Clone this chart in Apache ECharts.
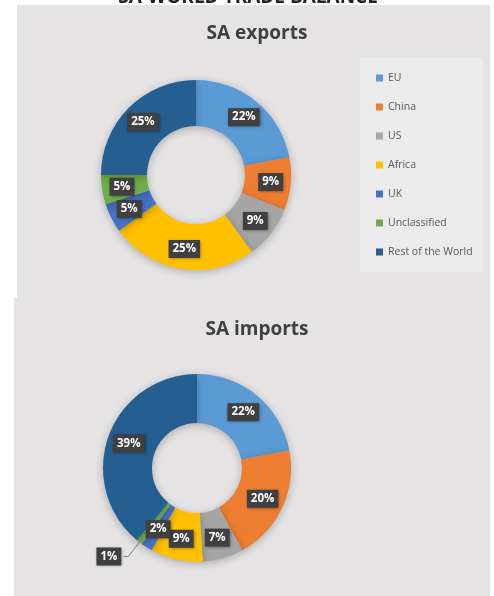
<!DOCTYPE html>
<html>
<head>
<meta charset="utf-8">
<script src="https://cdn.jsdelivr.net/npm/echarts@6/dist/echarts.min.js"></script>
<style>
  html, body { margin: 0; padding: 0; background: #fff; }
  #container { width: 494px; height: 596px; }
</style>
</head>
<body>
<div id="container"></div>
<script>
var categories = ['EU', 'China', 'US', 'Africa', 'UK', 'Unclassified', 'Rest of the World'];
var exportsShare = [22, 9, 9, 25, 5, 5, 25];
var importsShare = [22, 20, 7, 9, 2, 1, 39];
var colors = ['#5B9BD5', '#ED7D31', '#A5A5A5', '#FFC000', '#4472C4', '#70AD47', '#255E91'];

var dom = document.getElementById('container');
var myChart = echarts.init(dom);

var boxLabel = {
    show: true,
    position: 'inside',
    formatter: '{c}%',
    color: '#fff',
    fontFamily: 'Open Sans',
    fontWeight: 'bold',
    fontSize: 11.5,
    backgroundColor: '#404040',
    padding: [3, 4],
    shadowColor: 'rgba(0,0,0,0.4)',
    shadowBlur: 3,
    shadowOffsetX: 1,
    shadowOffsetY: 1
};

function toData(values) {
    return categories.map(function (name, i) {
        return { name: name, value: values[i] };
    });
}

var importsData = toData(importsShare);
// the 1% slice is labelled outside with a leader line
importsData[5].label = { position: 'outside', distanceToLabelLine: 2 };
importsData[5].labelLine = { show: true, length: 18, length2: 5, lineStyle: { color: '#7f7f7f' } };

var option = {
    backgroundColor: '#fff',
    color: colors,
    graphic: [
        { type: 'rect', shape: { x: 17, y: 5, width: 473, height: 293 }, style: { fill: '#E5E3E4' }, z: -10 },
        { type: 'rect', shape: { x: 14, y: 298, width: 476, height: 298 }, style: { fill: '#E5E3E4' }, z: -10 },
        {
            type: 'text', z: 10,
            style: {
                x: 248, y: 7, text: 'SA-WORLD TRADE BALANCE',
                font: 'bold 19px "Open Sans"', fill: '#222',
                align: 'center', verticalAlign: 'bottom'
            }
        }
    ],
    title: [{
        text: 'SA exports',
        left: 252, top: 19, textAlign: 'center',
        textStyle: { fontFamily: 'Open Sans', fontSize: 19, fontWeight: 'bold', color: '#404040' }
    }, {
        text: 'SA imports',
        left: 252, top: 315, textAlign: 'center',
        textStyle: { fontFamily: 'Open Sans', fontSize: 19, fontWeight: 'bold', color: '#404040' }
    }],
    legend: {
        orient: 'vertical',
        left: 360,
        top: 58,
        data: categories,
        icon: 'rect',
        itemWidth: 7,
        itemHeight: 7,
        itemGap: 17,
        backgroundColor: '#ECEBEB',
        padding: [14, 10, 14, 16],
        textStyle: { fontFamily: 'Open Sans', fontSize: 10.5, color: '#595959', lineHeight: 12 }
    },
    series: [{
        name: 'SA exports',
        type: 'pie',
        center: [196, 175],
        radius: [49, 95],
        avoidLabelOverlap: false,
        labelLayout: { hideOverlap: false },
        label: boxLabel,
        labelLine: { show: false },
        itemStyle: { shadowBlur: 8, shadowColor: 'rgba(0,0,0,0.25)', shadowOffsetY: 2 },
        emphasis: { scale: false },
        data: toData(exportsShare)
    }, {
        name: 'SA imports',
        type: 'pie',
        center: [197, 468],
        radius: [45, 94],
        avoidLabelOverlap: false,
        labelLayout: { hideOverlap: false },
        label: boxLabel,
        labelLine: { show: false },
        itemStyle: { shadowBlur: 8, shadowColor: 'rgba(0,0,0,0.25)', shadowOffsetY: 2 },
        emphasis: { scale: false },
        data: importsData
    }]
};

myChart.setOption(option, true);
</script>
</body>
</html>
